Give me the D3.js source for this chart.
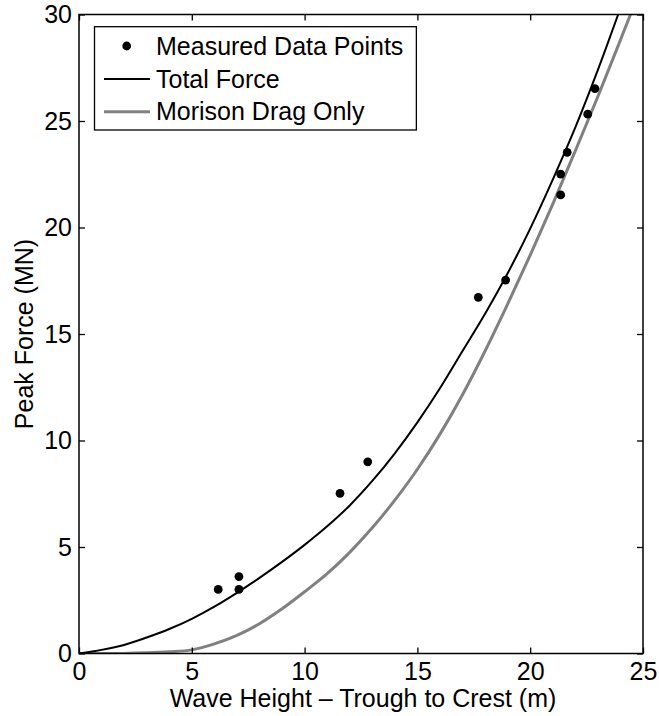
<!DOCTYPE html>
<html>
<head>
<meta charset="utf-8">
<script src="https://cdn.jsdelivr.net/npm/d3@7"></script>
<style>
  html, body { margin: 0; padding: 0; background: #fff; }
  svg { display: block; font-family: "Liberation Sans", Arial, Helvetica, sans-serif; }
</style>
</head>
<body>
<svg id="chart" width="659" height="716"></svg>
<script>
// Measured peak forces: wave height (m) and force (MN)
const measuredHeight = [6.17, 7.09, 7.09, 11.57, 12.8, 17.7, 18.91, 21.35, 21.35, 21.64, 22.55, 22.87];
const measuredForce  = [3.01, 3.01, 3.61, 7.52, 9.0, 16.72, 17.53, 21.53, 22.51, 23.53, 25.32, 26.52];

// Predicted total force (inertia + drag)
const totalHeight = [0, 1, 2, 3, 4, 5, 6, 7, 8, 9, 10, 11, 12, 13, 14, 15, 16, 17, 18, 19, 20, 21, 22, 23, 24];
const totalForce  = [0, 0.17, 0.4, 0.75, 1.15, 1.63, 2.2, 2.85, 3.55, 4.3, 5.1, 5.97, 6.95, 8.1, 9.4, 10.85, 12.45, 14.2, 15.95, 17.85, 19.95, 22.25, 24.7, 27.4, 30.3];

// Predicted Morison drag component alone
const dragHeight = [0, 1, 2, 3, 4, 5, 6, 7, 8, 9, 10, 11, 12, 13, 14, 15, 16, 17, 18, 19, 20, 21, 22, 23, 24, 25];
const dragForce  = [0, 0, 0.005, 0.03, 0.08, 0.17, 0.45, 0.85, 1.4, 2.1, 2.9, 3.75, 4.75, 5.9, 7.2, 8.65, 10.3, 12.15, 14.2, 16.4, 18.7, 21.1, 23.6, 26.15, 28.8, 31.5];

const xTicks = [0, 5, 10, 15, 20, 25];
const yTicks = [0, 5, 10, 15, 20, 25, 30];

const legendLabels = ["Measured Data Points", "Total Force", "Morison Drag Only"];

const svg = d3.select("#chart");
const plotL = 79, plotR = 643, plotT = 14.5, plotB = 653.5;
const fontSize = 25;

const x = d3.scaleLinear().domain([0, 25]).range([plotL, plotR]);
const y = d3.scaleLinear().domain([0, 30]).range([plotB, plotT]);

svg.append("rect").attr("width", 659).attr("height", 716).attr("fill", "#fff");

svg.append("clipPath").attr("id", "plotClip")
  .append("rect").attr("x", plotL).attr("y", plotT)
  .attr("width", plotR - plotL).attr("height", plotB - plotT);

const plot = svg.append("g").attr("clip-path", "url(#plotClip)");

const line = d3.line().x(d => x(d[0])).y(d => y(d[1])).curve(d3.curveMonotoneX);

plot.append("path")
  .datum(dragHeight.map((h, i) => [h, dragForce[i]]))
  .attr("d", line)
  .attr("fill", "none").attr("stroke", "#808080").attr("stroke-width", 3);

plot.append("path")
  .datum(totalHeight.map((h, i) => [h, totalForce[i]]))
  .attr("d", line)
  .attr("fill", "none").attr("stroke", "#000").attr("stroke-width", 2);

plot.selectAll("circle.pt")
  .data(measuredHeight.map((h, i) => [h, measuredForce[i]]))
  .join("circle").attr("class", "pt")
  .attr("cx", d => x(d[0])).attr("cy", d => y(d[1]))
  .attr("r", 4.4).attr("fill", "#000");

// Axes: ticks pointing inward on all four sides (boxed frame)
const tickLen = 6;
const axisStyle = g => {
  g.select(".domain").remove();
  g.selectAll(".tick line").attr("stroke", "#000").attr("stroke-width", 1.3);
  g.selectAll(".tick text").attr("fill", "#000").style("font-size", fontSize + "px")
    .style("font-family", '"Liberation Sans", Arial, sans-serif');
};

svg.append("g").attr("transform", `translate(0,${plotB})`)
  .call(d3.axisBottom(x).tickValues(xTicks).tickFormat(d3.format("d"))
    .tickSizeInner(-tickLen).tickSizeOuter(0).tickPadding(9))
  .call(axisStyle);

svg.append("g").attr("transform", `translate(0,${plotT})`)
  .call(d3.axisTop(x).tickValues(xTicks).tickFormat("")
    .tickSizeInner(-tickLen).tickSizeOuter(0))
  .call(axisStyle);

svg.append("g").attr("transform", `translate(${plotL},0)`)
  .call(d3.axisLeft(y).tickValues(yTicks).tickFormat(d3.format("d"))
    .tickSizeInner(-tickLen).tickSizeOuter(0).tickPadding(7))
  .call(axisStyle);

svg.append("g").attr("transform", `translate(${plotR},0)`)
  .call(d3.axisRight(y).tickValues(yTicks).tickFormat("")
    .tickSizeInner(-tickLen).tickSizeOuter(0))
  .call(axisStyle);

svg.append("rect")
  .attr("x", plotL).attr("y", plotT).attr("width", plotR - plotL).attr("height", plotB - plotT)
  .attr("fill", "none").attr("stroke", "#000").attr("stroke-width", 1.5);

// Axis titles
svg.append("text")
  .attr("x", (plotL + plotR) / 2 + 2).attr("y", 707)
  .attr("text-anchor", "middle").style("font-size", fontSize + "px")
  .text("Wave Height \u2013 Trough to Crest (m)");

svg.append("text")
  .attr("transform", `translate(33,${(plotT + plotB) / 2}) rotate(-90)`)
  .attr("text-anchor", "middle").style("font-size", fontSize + "px")
  .text("Peak Force (MN)");

// Legend
const lg = svg.append("g");
const rowY = [46, 79, 111.7];
const textX = 156;
const labels = lg.selectAll("text").data(legendLabels).join("text")
  .attr("x", textX).attr("y", (d, i) => rowY[i])
  .attr("dy", "0.35em").style("font-size", fontSize + "px").text(d => d);

let maxW = 0;
labels.each(function () { maxW = Math.max(maxW, this.getComputedTextLength()); });

lg.insert("rect", "text")
  .attr("x", 94.5).attr("y", 26.7).attr("width", textX + maxW + 13 - 94.5).attr("height", 130 - 26.7)
  .attr("fill", "#fff").attr("stroke", "#000").attr("stroke-width", 1.3);

lg.append("circle").attr("cx", 126.7).attr("cy", rowY[0]).attr("r", 4.4).attr("fill", "#000");
lg.append("line").attr("x1", 104).attr("x2", 150).attr("y1", rowY[1]).attr("y2", rowY[1])
  .attr("stroke", "#000").attr("stroke-width", 2);
lg.append("line").attr("x1", 104).attr("x2", 150).attr("y1", rowY[2]).attr("y2", rowY[2])
  .attr("stroke", "#808080").attr("stroke-width", 3);
</script>
</body>
</html>
